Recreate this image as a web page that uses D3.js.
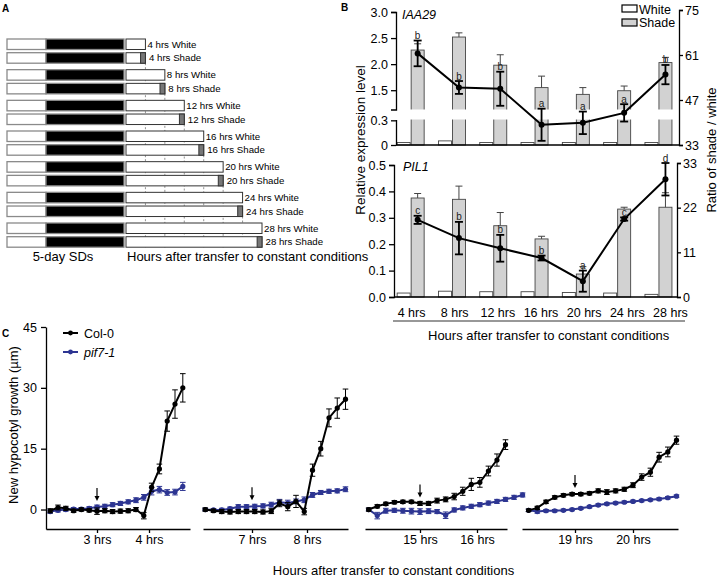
<!DOCTYPE html>
<html>
<head>
<meta charset="utf-8">
<script src="https://cdn.jsdelivr.net/npm/d3@7"></script>
<style>
html,body{margin:0;padding:0;background:#fff;}
svg{display:block;}
</style>
</head>
<body>
<script>
// ================= DATA =================
// ---- Panel A (schematic) ----
const aHours = [4, 8, 12, 16, 20, 24, 28];
const aConditions = ["White", "Shade"];
const aDottedHours = [4, 8, 12, 16, 20, 24];
const sdLightHours = 8;   // short day: 8 h light
const sdDayHours = 24;

// ---- Panel B ----
const bCategories = ["4 hrs", "8 hrs", "12 hrs", "16 hrs", "20 hrs", "24 hrs", "28 hrs"];
const iaaWhite    = [0.03, 0.05, 0.03, 0.03, 0.03, 0.03, 0.03];
const iaaShade    = [2.27, 2.52, 1.98, 1.55, 1.42, 1.49, 2.03];
const iaaShadeErr = [0.12, 0.08, 0.20, 0.22, 0.13, 0.09, 0.10];
const iaaRatio    = [61.5, 50.9, 50.5, 39.3, 39.9, 43.0, 54.9];
const iaaRatioErr = [4.0, 2.0, 5.3, 5.0, 3.5, 2.7, 3.0];
const iaaLetters  = ["b", "b", "b", "a", "a", "a", "b"];
const pilWhite    = [0.015, 0.022, 0.02, 0.02, 0.017, 0.015, 0.01];
const pilShade    = [0.375, 0.37, 0.27, 0.22, 0.087, 0.333, 0.34];
const pilShadeErr = [0.017, 0.05, 0.05, 0.01, 0.028, 0.007, 0.055];
const pilRatio    = [19.0, 14.5, 12.0, 9.6, 3.9, 19.2, 29.0];
const pilRatioErr = [1.0, 4.0, 3.3, 0.6, 2.6, 0.4, 4.0];
const pilLetters  = ["c", "b", "b", "b", "a", "c", "d"];
const iaaLeftTicks = [1.5, 2.0, 2.5, 3.0];
const iaaLowTicks = [0, 0.3];
const iaaRightTicks = [33, 47, 61, 75];
const pilLeftTicks = [0, 0.1, 0.2, 0.3, 0.4, 0.5];
const pilRightTicks = [0, 11, 22, 33];

// ---- Panel C ----
const cYTicks = [0, 15, 30, 45];
const c1Ticks = [3, 4];
const c1Time   = [2.10, 2.25, 2.40, 2.55, 2.70, 2.85, 3.00, 3.15, 3.30, 3.45, 3.60, 3.75, 3.90, 4.05, 4.20, 4.35, 4.50, 4.65];
const c1Col    = [-0.3, 0.5, 0.3, -0.3, 0.0, -0.2, -0.4, -0.3, -0.5, -0.4, -0.3, 0.0, -1.5, 5.5, 10.0, 21.8, 26.0, 30.0];
const c1ColErr = [0.5, 0.6, 0.5, 0.4, 0.4, 0.4, 0.8, 0.5, 0.5, 0.5, 0.5, 0.5, 0.8, 1.0, 1.2, 2.5, 3.5, 3.5];
const c1Pif    = [-0.5, -0.2, 0.0, 0.1, 0.1, 0.3, 0.6, 0.8, 1.2, 1.5, 1.9, 2.3, 3.0, 4.5, 4.9, 4.2, 4.3, 5.7];
const c1PifErr = [0.4, 0.4, 0.4, 0.4, 0.4, 0.4, 0.5, 0.5, 0.5, 0.5, 0.5, 0.6, 0.7, 0.9, 0.8, 0.7, 0.7, 1.0];

const c2Ticks = [7, 8];
const c2Time   = [6.15, 6.30, 6.45, 6.60, 6.75, 6.90, 7.05, 7.20, 7.35, 7.50, 7.65, 7.80, 7.95, 8.10, 8.25, 8.40, 8.55, 8.70];
const c2Col    = [0.0, -0.3, -0.5, -0.6, -0.5, -0.5, -0.5, -0.6, -0.4, 1.5, 0.7, 2.0, -0.5, 9.7, 15.0, 22.6, 25.0, 27.2];
const c2ColErr = [0.4, 0.4, 0.5, 0.5, 0.5, 0.5, 0.5, 0.5, 0.6, 0.8, 1.0, 1.5, 0.8, 1.5, 1.8, 2.2, 2.5, 2.5];
const c2Pif    = [0.0, -0.1, -0.1, 0.2, 0.7, 0.7, 0.8, 0.9, 1.2, 1.8, 1.6, 2.0, 2.4, 3.6, 4.2, 4.5, 4.6, 5.0];
const c2PifErr = [0.3, 0.3, 0.4, 0.4, 0.5, 0.5, 0.5, 0.5, 0.6, 0.7, 0.7, 0.6, 0.7, 0.6, 0.5, 0.5, 0.5, 0.6];

const c3Ticks = [15, 16];
const c3Time   = [14.10, 14.25, 14.40, 14.55, 14.70, 14.85, 15.00, 15.15, 15.30, 15.45, 15.60, 15.75, 15.90, 16.05, 16.20, 16.35, 16.50, 16.65, 16.80];
const c3Col    = [0.0, 0.8, 1.4, 1.8, 1.9, 1.9, 1.5, 1.5, 2.2, 2.5, 3.2, 4.5, 6.2, 6.7, 9.5, 12.2, 16.0, null, null];
const c3ColErr = [0.4, 0.4, 0.4, 0.4, 0.4, 0.4, 0.5, 0.5, 0.6, 0.6, 0.8, 1.0, 1.5, 1.2, 1.2, 1.5, 1.2, null, null];
const c3Pif    = [0.0, -1.5, -0.3, -0.2, -0.3, -0.4, -0.5, -0.4, -0.5, -1.4, -0.1, 0.4, 0.8, 1.2, 1.6, 2.0, 2.5, 3.0, 3.6];
const c3PifErr = [0.3, 0.8, 0.6, 0.5, 0.6, 0.7, 0.7, 0.6, 0.5, 0.8, 0.5, 0.5, 0.5, 0.5, 0.5, 0.5, 0.5, 0.5, 0.5];

const c4Ticks = [19, 20];
const c4Time   = [18.20, 18.35, 18.50, 18.65, 18.80, 18.95, 19.10, 19.25, 19.40, 19.55, 19.70, 19.85, 20.00, 20.15, 20.30, 20.45, 20.60, 20.75];
const c4Col    = [-0.2, 0.4, 1.9, 3.0, 3.5, 3.8, 3.8, 4.0, 4.6, 4.3, 4.6, 5.0, 6.0, 8.0, 9.2, 12.9, 14.2, 17.1];
const c4ColErr = [0.3, 0.4, 0.4, 0.4, 0.4, 0.4, 0.4, 0.4, 0.5, 0.6, 0.5, 0.5, 0.6, 0.8, 1.0, 1.2, 1.2, 1.0];
const c4Pif    = [-0.2, -0.5, -0.3, -0.3, -0.2, 0.0, 0.3, 0.7, 1.1, 1.4, 1.6, 1.8, 2.0, 2.2, 2.4, 2.6, 2.9, 3.3];
const c4PifErr = [0.3, 0.4, 0.3, 0.3, 0.3, 0.3, 0.3, 0.3, 0.3, 0.3, 0.3, 0.3, 0.3, 0.3, 0.3, 0.3, 0.3, 0.3];
const cArrowHours = [3, 7, 15, 19];

// ================= DRAWING =================
const FONT = '"Liberation Sans", Arial, Helvetica, sans-serif';
const BLUE = "#2d3592";
const BARGREY = "#d2d2d2";
const svg = d3.select("body").append("svg")
  .attr("width", 718).attr("height", 578).attr("font-family", FONT);

function label(g, x, y, s, size, o = {}) {
  const t = g.append("text").attr("x", x).attr("y", y).attr("font-size", size).text(s)
    .attr("fill", o.fill || "#000");
  if (o.anchor) t.attr("text-anchor", o.anchor);
  if (o.weight) t.attr("font-weight", o.weight);
  if (o.style) t.attr("font-style", o.style);
  if (o.rotate) t.attr("transform", `rotate(${o.rotate},${x},${y})`);
  return t;
}
function styleAxis(g, size) {
  g.attr("font-family", FONT).attr("font-size", size);
  g.selectAll(".domain, .tick line").attr("stroke", "#000").attr("stroke-width", 1.3);
  g.selectAll("text").attr("fill", "#000");
}
function errBar(g, x, y1, y2, cap, sw, color) {
  g.append("line").attr("x1", x).attr("x2", x).attr("y1", y1).attr("y2", y2)
    .attr("stroke", color).attr("stroke-width", sw);
  [y1, y2].forEach(y => g.append("line").attr("x1", x - cap).attr("x2", x + cap)
    .attr("y1", y).attr("y2", y).attr("stroke", color).attr("stroke-width", sw));
}

// Panel letters
label(svg, 2, 12, "A", 10, { weight: "bold" });
label(svg, 341, 11, "B", 10, { weight: "bold" });
label(svg, 2, 337, "C", 10, { weight: "bold" });

// ---------- Panel A ----------
const gA = svg.append("g");
const aX = d3.scaleLinear().domain([0, 28]).range([126, 262]);
const sdX = d3.scaleLinear().domain([0, sdDayHours]).range([7, 124]);
const aPair = d3.scaleLinear().domain([0, aHours.length - 1]).range([39, 223]);
const aShadeOff = 13.7, aRowH = 10.5;

aDottedHours.forEach(h => {
  const i = aHours.indexOf(h);
  gA.append("line").attr("x1", aX(h)).attr("x2", aX(h))
    .attr("y1", aPair(i) + aShadeOff + aRowH).attr("y2", 247.5)
    .attr("stroke", "#777").attr("stroke-width", 0.8).attr("stroke-dasharray", "2,2");
});
aHours.forEach((h, i) => {
  aConditions.forEach((cond, c) => {
    const y = aPair(i) + (c === 1 ? aShadeOff : 0);
    gA.append("rect").attr("x", sdX(0)).attr("y", y).attr("width", sdX(sdLightHours) - sdX(0))
      .attr("height", aRowH).attr("fill", "#fff").attr("stroke", "#8a8a8a").attr("stroke-width", 1.3);
    gA.append("rect").attr("x", sdX(sdLightHours)).attr("y", y).attr("width", sdX(sdDayHours) - sdX(sdLightHours))
      .attr("height", aRowH).attr("fill", "#000").attr("stroke", "#8a8a8a").attr("stroke-width", 1.3);
    gA.append("rect").attr("x", aX(0)).attr("y", y).attr("width", aX(h) - aX(0))
      .attr("height", aRowH).attr("fill", "#fff").attr("stroke", "#333").attr("stroke-width", 1);
    let lx = aX(h) + 2;
    if (cond === "Shade") {
      gA.append("rect").attr("x", aX(h - 1)).attr("y", y).attr("width", aX(h) - aX(h - 1))
        .attr("height", aRowH).attr("fill", "#777").attr("stroke", "#333").attr("stroke-width", 1);
      lx = aX(h) + 3.5;
    }
    label(gA, lx, y + aRowH / 2 + 3.5, `${h} hrs ${cond}`, 9.7);
  });
});
label(gA, 63, 261, "5-day SDs", 13, { anchor: "middle" });
label(gA, 127, 261, "Hours after transfer to constant conditions", 13);

// ---------- Panel B ----------
const gB = svg.append("g");
const bX = d3.scaleBand().domain(bCategories).range([390.5, 679.6]);
const bLabelX = d3.scaleBand().domain(bCategories).range([390, 692]);
const barW = 13;
const gc = c => bX(c) + bX.bandwidth() / 2;

// top subplot (IAA29) with broken axis
const upY = d3.scaleLinear().domain([1.13, 3.0]).range([109.5, 12]);
const loY = d3.scaleLinear().domain([0, 0.31]).range([145, 119.5]);
const rTopY = d3.scaleLinear().domain([33, 75]).range([145, 10]);

bCategories.forEach((c, i) => {
  const cx = gc(c);
  gB.append("rect").attr("x", cx - barW - 1).attr("y", loY(iaaWhite[i])).attr("width", barW)
    .attr("height", loY(0) - loY(iaaWhite[i])).attr("fill", "#fff").attr("stroke", "#444").attr("stroke-width", 0.9);
  gB.append("rect").attr("x", cx).attr("y", 116).attr("width", barW).attr("height", loY(0) - 116)
    .attr("fill", BARGREY).attr("stroke", "#444").attr("stroke-width", 0.9);
  gB.append("rect").attr("x", cx).attr("y", upY(iaaShade[i])).attr("width", barW)
    .attr("height", 113 - upY(iaaShade[i])).attr("fill", BARGREY).attr("stroke", "#444").attr("stroke-width", 0.9);
  const ex = cx + barW / 2, et = upY(iaaShade[i] + iaaShadeErr[i]);
  gB.append("line").attr("x1", ex).attr("x2", ex).attr("y1", upY(iaaShade[i])).attr("y2", et).attr("stroke", "#444").attr("stroke-width", 1);
  gB.append("line").attr("x1", ex - 3.5).attr("x2", ex + 3.5).attr("y1", et).attr("y2", et).attr("stroke", "#444").attr("stroke-width", 1);
});
// break gap
gB.append("rect").attr("x", 397).attr("y", 109.5).attr("width", 280).attr("height", 10).attr("fill", "#fff");

gB.append("g").attr("transform", "translate(396,0)")
  .call(d3.axisLeft(upY).tickValues(iaaLeftTicks).tickFormat(d3.format(".1f")).tickSize(5).tickPadding(3).tickSizeOuter(5))
  .call(styleAxis, 12.5);
gB.append("g").attr("transform", "translate(396,0)")
  .call(d3.axisLeft(loY).tickValues(iaaLowTicks).tickFormat(d => d === 0 ? "0" : d3.format(".1f")(d)).tickSize(5).tickPadding(3).tickSizeOuter(0))
  .call(styleAxis, 12.5);
gB.append("g").attr("transform", "translate(679,0)")
  .call(d3.axisRight(rTopY).tickValues(iaaRightTicks).tickSize(4).tickPadding(2).tickSizeOuter(4))
  .call(styleAxis, 12.5);
gB.append("line").attr("x1", 396).attr("x2", 679).attr("y1", 145).attr("y2", 145).attr("stroke", "#000").attr("stroke-width", 1.3);

function ratioSeries(g, vals, errs, letters, yS) {
  const pts = bCategories.map((c, i) => [gc(c) + barW / 2, yS(vals[i])]);
  g.append("path").attr("d", d3.line()(pts)).attr("fill", "none").attr("stroke", "#000").attr("stroke-width", 2);
  bCategories.forEach((c, i) => {
    const x = gc(c) + barW / 2;
    const top = yS(vals[i] + errs[i]);
    errBar(g, x, top, yS(vals[i] - errs[i]), 4, 1.8, "#000");
    g.append("circle").attr("cx", x).attr("cy", yS(vals[i])).attr("r", 3).attr("fill", "#000");
    label(g, x, top - 1.5, letters[i], 10, { anchor: "middle", fill: "#222" });
  });
}
ratioSeries(gB, iaaRatio, iaaRatioErr, iaaLetters, rTopY);
label(gB, 402, 19, "IAA29", 12.5, { style: "italic" });

// legend
gB.append("rect").attr("x", 622).attr("y", 5).attr("width", 15).attr("height", 7).attr("fill", "#fff").attr("stroke", "#000").attr("stroke-width", 1.2);
gB.append("rect").attr("x", 622).attr("y", 19).attr("width", 15).attr("height", 7).attr("fill", BARGREY).attr("stroke", "#000").attr("stroke-width", 1.2);
label(gB, 639, 13.5, "White", 12.5);
label(gB, 639, 27, "Shade", 12.5);

// bottom subplot (PIL1)
const pilY = d3.scaleLinear().domain([0, 0.5]).range([297, 165]);
const rBotY = d3.scaleLinear().domain([0, 33]).range([297, 163]);
bCategories.forEach((c, i) => {
  const cx = gc(c);
  gB.append("rect").attr("x", cx - barW - 1).attr("y", pilY(pilWhite[i])).attr("width", barW)
    .attr("height", pilY(0) - pilY(pilWhite[i])).attr("fill", "#fff").attr("stroke", "#444").attr("stroke-width", 0.9);
  gB.append("rect").attr("x", cx).attr("y", pilY(pilShade[i])).attr("width", barW)
    .attr("height", pilY(0) - pilY(pilShade[i])).attr("fill", BARGREY).attr("stroke", "#444").attr("stroke-width", 0.9);
  const ex = cx + barW / 2, et = pilY(pilShade[i] + pilShadeErr[i]);
  gB.append("line").attr("x1", ex).attr("x2", ex).attr("y1", pilY(pilShade[i])).attr("y2", et).attr("stroke", "#444").attr("stroke-width", 1);
  gB.append("line").attr("x1", ex - 3.5).attr("x2", ex + 3.5).attr("y1", et).attr("y2", et).attr("stroke", "#444").attr("stroke-width", 1);
});
gB.append("g").attr("transform", "translate(394,0)")
  .call(d3.axisLeft(pilY).tickValues(pilLeftTicks).tickFormat(d3.format(".1f")).tickSize(5).tickPadding(3).tickSizeOuter(5))
  .call(styleAxis, 12.5);
gB.append("g").attr("transform", "translate(677,0)")
  .call(d3.axisRight(rBotY).tickValues(pilRightTicks).tickSize(4).tickPadding(2).tickSizeOuter(4))
  .call(styleAxis, 12.5);
gB.append("line").attr("x1", 394).attr("x2", 677).attr("y1", 297).attr("y2", 297).attr("stroke", "#000").attr("stroke-width", 1.3);
ratioSeries(gB, pilRatio, pilRatioErr, pilLetters, rBotY);
label(gB, 403, 171, "PIL1", 12.5, { style: "italic" });

bCategories.forEach(c => label(gB, bLabelX(c) + bLabelX.bandwidth() / 2, 316.5, c, 12.5, { anchor: "middle" }));
gB.append("line").attr("x1", 393).attr("x2", 685).attr("y1", 321).attr("y2", 321).attr("stroke", "#333").attr("stroke-width", 1.2);
label(gB, 428, 340, "Hours after transfer to constant conditions", 13);

label(gB, 365, 140, "Relative  expression level", 13.5, { anchor: "middle", rotate: -90 });
label(gB, 716, 150, "Ratio of shade / white", 13, { anchor: "middle", rotate: -90 });

// ---------- Panel C ----------
const gC = svg.append("g");
const cY = d3.scaleLinear().domain([-4.8, 45]).range([529, 327]);
gC.append("g").attr("transform", "translate(46,0)")
  .call(d3.axisLeft(cY).tickValues(cYTicks).tickSize(5).tickPadding(4).tickSizeOuter(0))
  .call(styleAxis, 12.5);
label(gC, 17.5, 425, "New hypocotyl growth (µm)", 13, { anchor: "middle", rotate: -90 });

const cPanels = [
  { ticks: c1Ticks, tickPx: [97, 149], extent: [46, 190], t: c1Time, col: c1Col, colErr: c1ColErr, pif: c1Pif, pifErr: c1PifErr, arrow: cArrowHours[0] },
  { ticks: c2Ticks, tickPx: [252, 307], extent: [203, 348], t: c2Time, col: c2Col, colErr: c2ColErr, pif: c2Pif, pifErr: c2PifErr, arrow: cArrowHours[1] },
  { ticks: c3Ticks, tickPx: [420, 477], extent: [365, 507], t: c3Time, col: c3Col, colErr: c3ColErr, pif: c3Pif, pifErr: c3PifErr, arrow: cArrowHours[2] },
  { ticks: c4Ticks, tickPx: [575, 633], extent: [522, 678], t: c4Time, col: c4Col, colErr: c4ColErr, pif: c4Pif, pifErr: c4PifErr, arrow: cArrowHours[3] }
];

function series(g, x, t, v, e, color) {
  const pts = t.map((tt, i) => ({ t: tt, v: v[i], e: e[i] })).filter(d => d.v != null);
  pts.forEach(d => errBar(g, x(d.t), cY(d.v + d.e), cY(d.v - d.e), 2.8, 1, color));
  g.append("path").attr("d", d3.line().x(d => x(d.t)).y(d => cY(d.v))(pts))
    .attr("fill", "none").attr("stroke", color).attr("stroke-width", 2);
  pts.forEach(d => g.append("circle").attr("cx", x(d.t)).attr("cy", cY(d.v)).attr("r", 2.6).attr("fill", color));
}

cPanels.forEach(p => {
  const base = d3.scaleLinear().domain(p.ticks).range(p.tickPx);
  const x = d3.scaleLinear().domain(p.extent.map(v => base.invert(v))).range(p.extent);
  gC.append("g").attr("transform", "translate(0,529)")
    .call(d3.axisBottom(x).tickValues(p.ticks).tickFormat(d => `${d} hrs`).tickSize(4).tickPadding(2).tickSizeOuter(0))
    .call(styleAxis, 12.5);
  series(gC, x, p.t, p.pif, p.pifErr, BLUE);
  series(gC, x, p.t, p.col, p.colErr, "#000");
  // arrow
  let idx = d3.minIndex(p.t, tt => Math.abs(tt - p.arrow));
  const vmax = Math.max(p.col[idx] ?? -99, p.pif[idx] ?? -99);
  const tip = cY(vmax) - 6, ax = x(p.arrow);
  gC.append("line").attr("x1", ax).attr("x2", ax).attr("y1", tip - 13).attr("y2", tip - 3)
    .attr("stroke", "#000").attr("stroke-width", 1.2);
  gC.append("path").attr("d", `M${ax - 2.5},${tip - 5}L${ax + 2.5},${tip - 5}L${ax},${tip}Z`).attr("fill", "#000");
});
label(gC, 393.5, 575, "Hours after transfer to constant conditions", 13, { anchor: "middle" });

// legend C
[["Col-0", "#000", 333, "normal"], ["pif7-1", BLUE, 352, "italic"]].forEach(([name, col, y, st]) => {
  gC.append("line").attr("x1", 63).attr("x2", 78).attr("y1", y).attr("y2", y).attr("stroke", col).attr("stroke-width", 2);
  gC.append("circle").attr("cx", 70.5).attr("cy", y).attr("r", 2.4).attr("fill", col);
  label(gC, 84, y + 4.5, name, 12.5, { style: st });
});
</script>
</body>
</html>
